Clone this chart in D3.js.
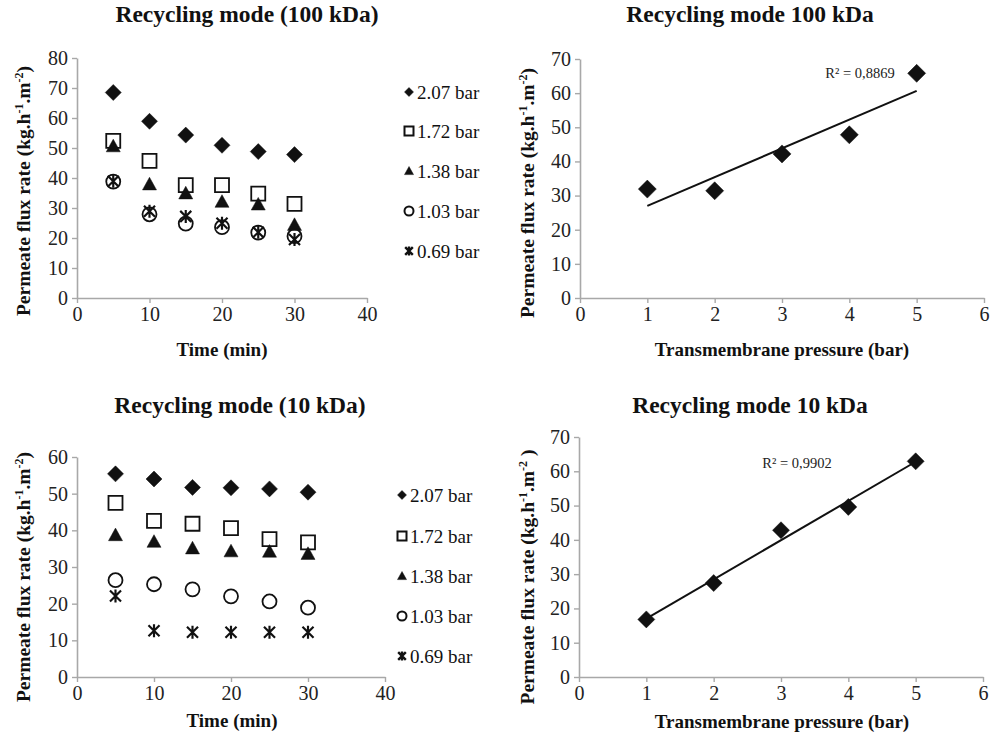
<!DOCTYPE html>
<html>
<head>
<meta charset="utf-8">
<script src="https://cdn.jsdelivr.net/npm/d3@7"></script>
<style>
  body { margin: 0; background: #fff; }
</style>
</head>
<body>
<svg id="chart" width="1003" height="738"></svg>
<script>
// time series (min)
const times = [5, 10, 15, 20, 25, 30];
const pressureLabels = ["2.07 bar", "1.72 bar", "1.38 bar", "1.03 bar", "0.69 bar"];
const markerTypes = ["diamond", "square", "triangle", "circle", "star"];

// 100 kDa, flux vs time
const flux100_207 = [68.5, 58.9, 54.3, 50.9, 48.8, 47.8];
const flux100_172 = [52.4, 45.7, 37.6, 37.6, 34.8, 31.4];
const flux100_138 = [50.6, 37.9, 34.9, 32.1, 31.2, 24.4];
const flux100_103 = [38.8, 27.9, 24.8, 23.6, 21.8, 20.6];
const flux100_069 = [38.9, 28.9, 27.2, 24.9, 21.9, 19.5];

// 10 kDa, flux vs time
const flux10_207 = [55.4, 54.0, 51.7, 51.6, 51.3, 50.4];
const flux10_172 = [47.5, 42.6, 41.8, 40.6, 37.6, 36.7];
const flux10_138 = [38.7, 36.9, 35.1, 34.3, 34.2, 33.6];
const flux10_103 = [26.4, 25.3, 23.9, 22.0, 20.6, 18.9];
const flux10_069 = [22.1, 12.6, 12.2, 12.2, 12.2, 12.2];

// flux vs transmembrane pressure
const tmp = [1, 2, 3, 4, 5];
const tmpFlux100 = [31.9, 31.4, 42.2, 47.8, 65.8];
const tmpFlux10 = [16.8, 27.4, 42.8, 49.6, 62.9];
const r2Labels = ["R² = 0,8869", "R² = 0,9902"];

const titles = ["Recycling mode (100 kDa)", "Recycling mode 100 kDa", "Recycling mode (10 kDa)", "Recycling mode 10 kDa"];

const svg = d3.select("#chart");
const axisColor = "#a8a8a8";
const serif = "'Liberation Serif', 'Times New Roman', serif";

function markerPath(type, s) {
  let h = s / 2;
  if (type === "diamond") return `M0,${-h}L${h},0L0,${h}L${-h},0Z`;
  if (type === "square") return `M${-h},${-h}H${h}V${h}H${-h}Z`;
  if (type === "triangle") return `M0,${-h}L${h},${h * 0.8}L${-h},${h * 0.8}Z`;
  if (type === "circle") return d3.arc()({innerRadius: 0, outerRadius: h, startAngle: 0, endAngle: 2 * Math.PI});
  // star: X plus vertical bar
  let k = h * 0.85;
  return `M${-k},${-k}L${k},${k}M${-k},${k}L${k},${-k}M0,${-h}V${h}`;
}

function drawMarker(g, type, x, y, s, lw) {
  let open = type === "square" || type === "circle";
  let line = type === "star";
  g.append("path")
    .attr("transform", `translate(${x},${y})`)
    .attr("d", markerPath(type, s))
    .attr("fill", open || line ? "none" : "#111")
    .attr("stroke", "#111")
    .attr("stroke-width", line ? lw * 1.2 : (open ? lw : 0.5));
}

function styleAxis(g) {
  g.selectAll(".domain").attr("stroke", axisColor).attr("stroke-width", 1.6);
  g.selectAll(".tick line").attr("stroke", axisColor).attr("stroke-width", 1.4);
  g.selectAll(".tick text").attr("fill", "#222")
    .style("font-family", serif).style("font-size", "20px");
}

function label(x, y, txt, size, bold) {
  return svg.append("text")
    .attr("x", x).attr("y", y)
    .attr("text-anchor", "middle")
    .style("font-family", serif)
    .style("font-size", size + "px")
    .style("font-weight", bold ? "bold" : "normal")
    .attr("fill", "#111")
    .text(txt);
}

function yTitle(x, y, extraSpace) {
  let t = svg.append("text")
    .attr("transform", `translate(${x},${y}) rotate(-90)`)
    .attr("text-anchor", "middle")
    .style("font-family", serif)
    .style("font-size", "19.5px")
    .style("font-weight", "bold")
    .attr("fill", "#111");
  t.append("tspan").text("Permeate flux rate (kg.h");
  t.append("tspan").attr("dy", -7).style("font-size", "12px").text("-1");
  t.append("tspan").attr("dy", 7).text(".m");
  t.append("tspan").attr("dy", -7).style("font-size", "12px").text("-2");
  t.append("tspan").attr("dy", 7).text(extraSpace ? " )" : ")");
}

function panel(opts) {
  let x = d3.scaleLinear().domain(opts.xdomain).range(opts.xrange);
  let y = d3.scaleLinear().domain(opts.ydomain).range(opts.yrange);

  svg.append("g")
    .attr("transform", `translate(0,${opts.yrange[0]})`)
    .call(d3.axisBottom(x).tickValues(d3.range(opts.xdomain[0], opts.xdomain[1] + 0.001, opts.xstep))
      .tickFormat(d3.format("d")).tickSize(5).tickPadding(4).tickSizeOuter(0))
    .call(styleAxis);

  svg.append("g")
    .attr("transform", `translate(${opts.xrange[0]},0)`)
    .call(d3.axisLeft(y).tickValues(d3.range(opts.ydomain[0], opts.ydomain[1] + 0.001, 10))
      .tickFormat(d3.format("d")).tickSize(5).tickPadding(4).tickSizeOuter(0))
    .call(styleAxis);

  label(opts.titleX, opts.titleY, opts.title, 23.5, true);
  label(opts.xtitleX, opts.xtitleY, opts.xtitle, 19, true);
  yTitle(opts.ytitleX, opts.ytitleY, opts.extraSpace);
  return {x, y};
}

// ---- top-left: 100 kDa vs time
let series100 = [flux100_207, flux100_172, flux100_138, flux100_103, flux100_069];
let p1 = panel({xdomain: [0, 40], xstep: 10, xrange: [77, 367], ydomain: [0, 80], yrange: [298, 58],
  title: titles[0], titleX: 247, titleY: 22, xtitle: "Time (min)", xtitleX: 222, xtitleY: 356,
  ytitleX: 30, ytitleY: 191});
let g1 = svg.append("g");
series100.forEach((vals, i) => {
  vals.forEach((v, j) => drawMarker(g1, markerTypes[i], p1.x(times[j]), p1.y(v), i === 0 ? 16 : (i === 4 ? 13 : 14), 1.8));
});

// ---- bottom-left: 10 kDa vs time
let series10 = [flux10_207, flux10_172, flux10_138, flux10_103, flux10_069];
let p3 = panel({xdomain: [0, 40], xstep: 10, xrange: [77, 385], ydomain: [0, 60], yrange: [677, 457],
  title: titles[2], titleX: 240, titleY: 413, xtitle: "Time (min)", xtitleX: 232, xtitleY: 727,
  ytitleX: 30, ytitleY: 577});
let g3 = svg.append("g");
series10.forEach((vals, i) => {
  vals.forEach((v, j) => drawMarker(g3, markerTypes[i], p3.x(times[j]), p3.y(v), i === 0 ? 16 : (i === 4 ? 13 : 14), 1.8));
});

// legends
function legend(x0, rows) {
  let g = svg.append("g");
  pressureLabels.forEach((lab, i) => {
    drawMarker(g, markerTypes[i], x0, rows[i], 9, 2);
    g.append("text")
      .attr("x", x0 + 8).attr("y", rows[i])
      .attr("dy", "0.35em")
      .style("font-family", serif)
      .style("font-size", "19px").attr("fill", "#111")
      .text(lab);
  });
}
legend(409, [92, 131, 171, 211, 251]);
legend(402, [495, 536, 576, 616, 656]);

// ---- right panels: flux vs TMP with linear fit
function fit(xs, ys) {
  let mx = d3.mean(xs), my = d3.mean(ys);
  let b = d3.sum(xs, (v, i) => (v - mx) * (ys[i] - my)) / d3.sum(xs, v => (v - mx) ** 2);
  return {a: my - b * mx, b: b};
}

function tmpPanel(vals, opts, r2, r2x, r2y, size) {
  let p = panel(opts);
  let f = fit(tmp, vals);
  let x0 = d3.min(tmp), x1 = d3.max(tmp);
  svg.append("line")
    .attr("x1", p.x(x0)).attr("y1", p.y(f.a + f.b * x0))
    .attr("x2", p.x(x1)).attr("y2", p.y(f.a + f.b * x1))
    .attr("stroke", "#111").attr("stroke-width", 2);
  let g = svg.append("g");
  vals.forEach((v, j) => drawMarker(g, "diamond", p.x(tmp[j]), p.y(v), size, 1));
  label(r2x, r2y, r2, 14.5, false).attr("dy", "0.35em").attr("fill", "#222");
}

tmpPanel(tmpFlux100, {xdomain: [0, 6], xstep: 1, xrange: [580, 984], ydomain: [0, 70], yrange: [298, 59],
  title: titles[1], titleX: 750, titleY: 22, xtitle: "Transmembrane pressure (bar)", xtitleX: 782, xtitleY: 356,
  ytitleX: 534, ytitleY: 193}, r2Labels[0], 860, 73, 18);

tmpPanel(tmpFlux10, {xdomain: [0, 6], xstep: 1, xrange: [579, 983], ydomain: [0, 70], yrange: [677, 437],
  title: titles[3], titleX: 750, titleY: 413, xtitle: "Transmembrane pressure (bar)", xtitleX: 782, xtitleY: 728,
  ytitleX: 534, ytitleY: 577, extraSpace: true}, r2Labels[1], 797, 463, 17);
</script>
</body>
</html>
